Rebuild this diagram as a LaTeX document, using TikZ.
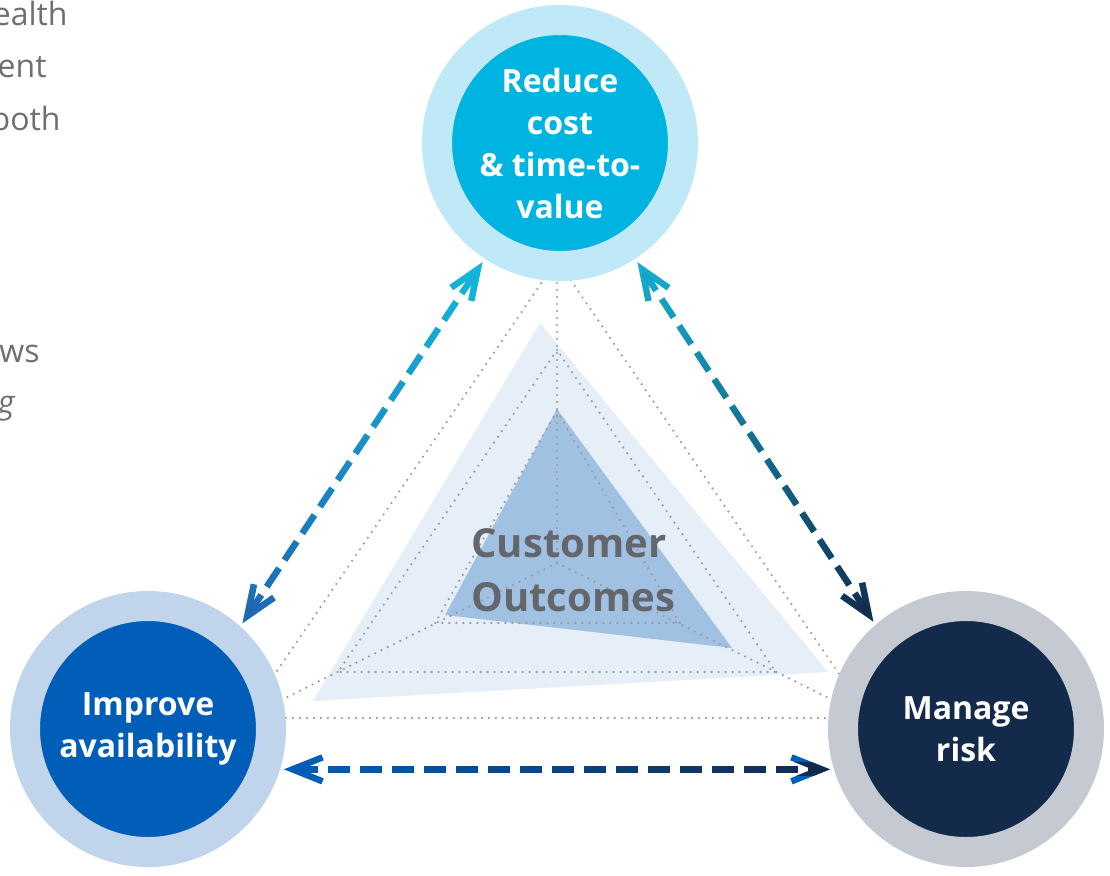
\documentclass[tikz,border=0pt]{standalone}
\usepackage{fontspec}
\setmainfont{Open Sans}
\usetikzlibrary{arrows.meta,fadings}

\definecolor{costouter}{HTML}{BFE9F7}
\definecolor{costinner}{HTML}{00B4E2}
\definecolor{availouter}{HTML}{C0D5EC}
\definecolor{availinner}{HTML}{005EB8}
\definecolor{riskouter}{HTML}{C5C9D2}
\definecolor{riskinner}{HTML}{142A4B}
\definecolor{arrcyan}{HTML}{12BADC}
\definecolor{arrblue}{HTML}{2166B1}
\definecolor{arrteal}{HTML}{16B2D4}
\definecolor{arrnavy}{HTML}{13294B}
\definecolor{arrroyal}{HTML}{0060B9}
\definecolor{paleblue}{HTML}{E6EEF8}
\definecolor{midblue}{HTML}{A1C1E3}
\definecolor{gridgray}{HTML}{979A9E}
\definecolor{labelgray}{HTML}{63666A}
\definecolor{bodygray}{HTML}{6C7074}

\tikzfading[name=fadedown, top color=transparent!100, bottom color=transparent!0]
\tikzfading[name=faderight, left color=transparent!100, right color=transparent!0]

\begin{document}
\begin{tikzpicture}[x=0.5pt, y=-0.5pt,
    goal/.style={circle, line width=15pt, minimum size=123pt, inner sep=0pt,
                 align=center, text=white, font=\fontsize{16}{21}\selectfont\bfseries},
    link/.style={<->, >={Straight Barb[length=15pt,width=12pt]}, line width=3.2pt,
                 dash pattern=on 11pt off 5pt, shorten >=2pt, shorten <=2pt},
    radar/.style={gridgray, line width=1.2pt, line cap=round, dash pattern=on 0pt off 3.5pt},
    body/.style={text=bodygray, inner sep=0pt, font=\fontsize{16}{26}\selectfont}
    ]
    \clip (0,0) rectangle (1110,875);

    % text of the page beside the figure
    \foreach \word/\xr/\yb in {ealth/68/25, ent/47/77, both/61/130, ws/40/362}
      \node[body, anchor=base east] (t-\word) at (\xr,\yb) {\word};
    \node[body, anchor=base east] (t-g) at (15,413) {\itshape g};

    % filled outcome triangles
    \fill[paleblue] (540,323) -- (313,701) -- (828,672) -- cycle;
    \fill[midblue] (557,409) -- (445,615) -- (732,648) -- cycle;

    % dotted radar grid
    \coordinate (c) at (557,563);
    \foreach \ty/\lx/\rx/\by in {260/245/869/718, 350/338/776/672, 411/435/680/623}
      \draw[radar] (557,\ty) -- (\lx,\by) -- (\rx,\by) -- cycle;
    \foreach \p in {(557,260),(245,718),(869,718)}
      \draw[radar] (c) -- \p;

    \node[font=\fontsize{20}{27}\selectfont\bfseries, text=labelgray, align=left,
          inner sep=0pt, anchor=west] (outcomes) at (471,570) {Customer\\Outcomes};

    % the three goals
    \node[goal, draw=costouter, fill=costinner] (cost) at (560,143) {Reduce\\cost\\\& time-to-\\value};
    \node[goal, draw=availouter, fill=availinner] (avail) at (148,729) {Improve\\availability};
    \node[goal, draw=riskouter, fill=riskinner] (risk) at (966,729) {Manage\\risk};

    % two-way links
    \draw[link, arrcyan] (avail.48) -- (cost.237);
    \draw[link, arrblue, path fading=fadedown] (avail.48) -- (cost.237);
    \draw[link, arrteal] (risk.131) -- (cost.303);
    \draw[link, arrnavy, path fading=fadedown] (risk.131) -- (cost.303);
    \draw[link, arrroyal] (avail.343) -- (risk.197);
    \draw[link, arrnavy, path fading=faderight] (avail.343) -- (risk.197);
\end{tikzpicture}
\end{document}
